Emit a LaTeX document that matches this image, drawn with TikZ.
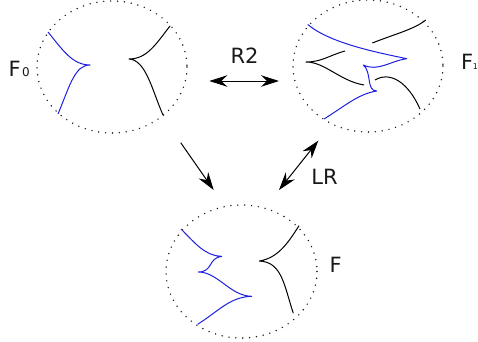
\documentclass[tikz,border=0pt]{standalone}
\usepackage{fontspec}
\setmainfont{DejaVu Sans}
\usetikzlibrary{arrows.meta}
\definecolor{kblue}{RGB}{30,30,225}
\tikzset{
  dotcircle/.style={draw=black!90,line width=1.6pt,line cap=round,dash pattern=on 0pt off 6.9pt},
  strandb/.style={draw=kblue,line width=1pt,line join=round},
  strandk/.style={draw=black,line width=1pt,line join=round},
  lab/.style={inner sep=0pt,font=\fontsize{21}{21}\selectfont,text=black!90},
  sub/.style={inner sep=0pt,font=\fontsize{12}{12}\selectfont,text=black!90},
  subsmall/.style={inner sep=0pt,font=\fontsize{8}{8}\selectfont,text=black!90},
  arr/.style={draw=black,line width=1pt,-{Stealth[length=18pt,width=11.5pt,inset=6pt]}},
  darr/.style={draw=black,line width=1pt,{Stealth[length=18pt,width=11.5pt,inset=6pt]}-{Stealth[length=18pt,width=11.5pt,inset=6pt]}}
}
\begin{document}
\begin{tikzpicture}[x=1pt,y=-1pt]
\useasboundingbox (0,0) rectangle (478,341);
% circles
\draw[dotcircle] (112,67) ellipse [x radius=75,y radius=66];
\draw[dotcircle] (368,66) ellipse [x radius=75,y radius=66];
\draw[dotcircle] (241.5,271.5) ellipse [x radius=75.5,y radius=66.5];
% F0
\draw[strandb] (48,32) .. controls (62,49) and (72,65) .. (90,65)
  .. controls (75,65) and (70,85) .. (58,114);
\draw[strandk] (170,26) .. controls (156,44) and (147,59) .. (129,59)
  .. controls (146,60) and (152,90) .. (163,115);
% F1
\draw[strandb] (307.7,24.5) .. controls (330,43) and (375,52) .. (406.7,58.7)
  .. controls (390,61) and (378,72) .. (363.3,65)
  .. controls (372,72) and (366,91) .. (376.7,91)
  .. controls (358,94) and (345,106) .. (324,119);
\draw[strandk] (425.7,20) .. controls (415,29) and (395,34) .. (372.3,43);
\draw[strandk] (345,51) .. controls (330,55) and (322,62) .. (306,62)
  .. controls (325,62) and (340,81) .. (364,85);
\draw[strandk] (375,80) .. controls (390,71) and (408,82) .. (420,109);
% F
\draw[strandb] (181,229) .. controls (195,243) and (205,256) .. (221.7,256.3)
  .. controls (208,258) and (213,272) .. (198.3,272)
  .. controls (218,272) and (230,296) .. (251.7,296.3)
  .. controls (230,297) and (220,310) .. (197.7,324.3);
\draw[strandk] (299,225.7) .. controls (288,243) and (278,258) .. (259.3,261)
  .. controls (282,262) and (284,285) .. (293.3,313.3);
% labels
\node[lab,anchor=base west] (f0) at (8.5,76) {F};
\node[sub,anchor=base west] (f0s) at (22,76) {0};
\node[lab,anchor=base west] (f1) at (461,69) {F};
\node[subsmall,anchor=base west] (f1s) at (472.6,69) {1};
\node[lab,anchor=base west] (f) at (329.5,272) {F};
\node[lab] (r2) at (244.5,55.5) {R2};
\node[lab] (lr) at (324.5,176.5) {LR};
% arrows
\coordinate (a1) at (209.3,81);
\coordinate (a2) at (279,81);
\coordinate (b1) at (180.7,142.7);
\coordinate (b2) at (213.7,190);
\coordinate (c1) at (318.3,140.7);
\coordinate (c2) at (279,190);
\draw[darr] (a1) -- (a2);
\draw[arr] (b1) -- (b2);
\draw[darr] (c1) -- (c2);
\end{tikzpicture}
\end{document}
